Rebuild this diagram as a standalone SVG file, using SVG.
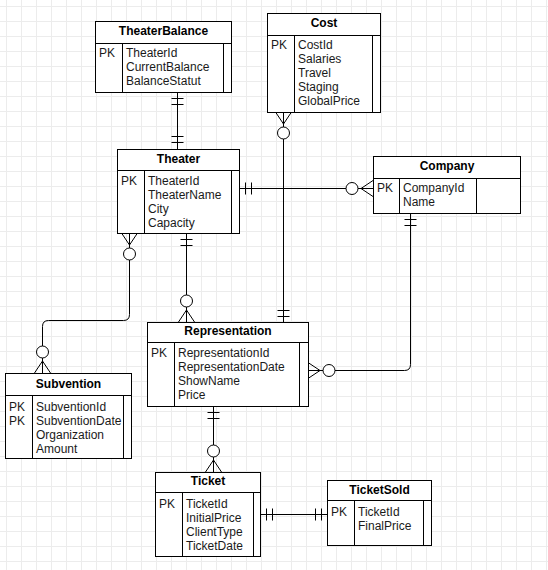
<svg xmlns="http://www.w3.org/2000/svg" width="548" height="570" viewBox="0 0 548 570">
<defs>
<pattern id="grid" x="6" y="6" width="15" height="15" patternUnits="userSpaceOnUse">
<path d="M0.5 0 V15 M0 0.5 H15" fill="none" stroke="#ececec" stroke-width="1"/>
</pattern>
<style>
.box{fill:#fff;stroke:#000;stroke-width:1}
.ln{fill:none;stroke:#000;stroke-width:1}
.hd{font-family:"Liberation Sans",Arial,sans-serif;font-size:12px;font-weight:bold;fill:#000;text-anchor:middle}
.tx{font-family:"Liberation Sans",Arial,sans-serif;font-size:12px;fill:#1a1a1a}
.c{fill:#fff;stroke:#000;stroke-width:1}
</style>
</defs>
<rect x="0" y="0" width="548" height="570" fill="#fff"/>
<rect x="0" y="0" width="548" height="570" fill="url(#grid)"/>

<g id="connectors">
<!-- TheaterBalance - Theater -->
<path class="ln" d="M177.5 92 V149 M171.5 98.5 H183.5 M171.5 104.5 H183.5 M171.5 136.5 H183.5 M171.5 142.5 H183.5"/>
<!-- Cost - Representation -->
<path class="ln" d="M283.5 112 V322 M275.5 112 L283.5 124 L291.5 112 M277.5 310.5 H289.5 M277.5 316.5 H289.5"/>
<circle class="c" cx="283.5" cy="133" r="6"/>
<!-- Theater - Company -->
<path class="ln" d="M239 188.5 H373 M245.5 182.5 V194.5 M251.5 182.5 V194.5 M373 180.5 L361 188.5 L373 196.5"/>
<circle class="c" cx="352" cy="188.5" r="6"/>
<!-- Theater - Subvention -->
<path class="ln" d="M129.5 233 V314.5 Q129.5 320.5 123.5 320.5 H48.5 Q42.5 320.5 42.5 326.5 V373 M121.5 233 L129.5 245 L137.5 233 M34.5 373 L42.5 361 L50.5 373"/>
<circle class="c" cx="129.5" cy="254" r="6"/>
<circle class="c" cx="42.5" cy="352" r="6"/>
<!-- Theater - Representation -->
<path class="ln" d="M186.5 233 V322 M180.5 239.5 H192.5 M180.5 245.5 H192.5 M178.5 322 L186.5 310 L194.5 322"/>
<circle class="c" cx="186.5" cy="301" r="6"/>
<!-- Company - Representation -->
<path class="ln" d="M410.5 213 V364.5 Q410.5 370.5 404.5 370.5 H308 M404.5 219.5 H416.5 M404.5 225.5 H416.5 M308 362.5 L320 370.5 L308 378.5"/>
<circle class="c" cx="329" cy="370.5" r="6"/>
<!-- Representation - Ticket -->
<path class="ln" d="M213.5 406 V472 M207.5 412.5 H219.5 M207.5 418.5 H219.5 M205.5 472 L213.5 460 L221.5 472"/>
<circle class="c" cx="213.5" cy="451" r="6"/>
<!-- Ticket - TicketSold -->
<path class="ln" d="M260 514.5 H327 M266.5 508.5 V520.5 M272.5 508.5 V520.5 M315.5 508.5 V520.5 M321.5 508.5 V520.5"/>
</g>

<g id="TheaterBalance">
<rect class="box" x="95.5" y="21.5" width="136" height="71"/>
<path class="ln" d="M95.5 43.5 H231.5 M122.5 43.5 V92.5 M223.5 43.5 V92.5"/>
<text class="hd" x="163.5" y="35">TheaterBalance</text>
<text class="tx" x="99" y="57">PK</text>
<text class="tx" x="126" y="57">TheaterId</text>
<text class="tx" x="126" y="71">CurrentBalance</text>
<text class="tx" x="126" y="85">BalanceStatut</text>
</g>

<g id="Cost">
<rect class="box" x="267.5" y="13.5" width="113" height="99"/>
<path class="ln" d="M267.5 35.5 H380.5 M294.5 35.5 V112.5 M372.5 35.5 V112.5"/>
<text class="hd" x="324" y="27">Cost</text>
<text class="tx" x="271" y="49">PK</text>
<text class="tx" x="298" y="49">CostId</text>
<text class="tx" x="298" y="63">Salaries</text>
<text class="tx" x="298" y="77">Travel</text>
<text class="tx" x="298" y="91">Staging</text>
<text class="tx" x="298" y="105">GlobalPrice</text>
</g>

<g id="Theater">
<rect class="box" x="117.5" y="149.5" width="122" height="84"/>
<path class="ln" d="M117.5 170.5 H239.5 M144.5 170.5 V233.5 M231.5 170.5 V233.5"/>
<text class="hd" x="178.5" y="163">Theater</text>
<text class="tx" x="121" y="185">PK</text>
<text class="tx" x="148" y="185">TheaterId</text>
<text class="tx" x="148" y="199">TheaterName</text>
<text class="tx" x="148" y="213">City</text>
<text class="tx" x="148" y="227">Capacity</text>
</g>

<g id="Company">
<rect class="box" x="373.5" y="156.5" width="147" height="57"/>
<path class="ln" d="M373.5 178.5 H520.5 M399.5 178.5 V213.5 M476.5 178.5 V213.5"/>
<text class="hd" x="447" y="170">Company</text>
<text class="tx" x="377" y="192">PK</text>
<text class="tx" x="403" y="192">CompanyId</text>
<text class="tx" x="403" y="206">Name</text>
</g>

<g id="Representation">
<rect class="box" x="147.5" y="322.5" width="161" height="84"/>
<path class="ln" d="M147.5 342.5 H308.5 M174.5 342.5 V406.5 M299.5 342.5 V406.5"/>
<text class="hd" x="228" y="335">Representation</text>
<text class="tx" x="151" y="357">PK</text>
<text class="tx" x="178" y="357">RepresentationId</text>
<text class="tx" x="178" y="371">RepresentationDate</text>
<text class="tx" x="178" y="385">ShowName</text>
<text class="tx" x="178" y="399">Price</text>
</g>

<g id="Subvention">
<rect class="box" x="5.5" y="373.5" width="126" height="85"/>
<path class="ln" d="M5.5 395.5 H131.5 M32.5 395.5 V458.5 M123.5 395.5 V458.5"/>
<text class="hd" x="68.5" y="388">Subvention</text>
<text class="tx" x="9" y="411">PK</text>
<text class="tx" x="9" y="425">PK</text>
<text class="tx" x="36" y="411">SubventionId</text>
<text class="tx" x="36" y="425">SubventionDate</text>
<text class="tx" x="36" y="439">Organization</text>
<text class="tx" x="36" y="453">Amount</text>
</g>

<g id="Ticket">
<rect class="box" x="155.5" y="472.5" width="105" height="84"/>
<path class="ln" d="M155.5 492.5 H260.5 M182.5 492.5 V556.5 M253.5 492.5 V556.5"/>
<text class="hd" x="208" y="485">Ticket</text>
<text class="tx" x="159" y="508">PK</text>
<text class="tx" x="186" y="508">TicketId</text>
<text class="tx" x="186" y="522">InitialPrice</text>
<text class="tx" x="186" y="536">ClientType</text>
<text class="tx" x="186" y="550">TicketDate</text>
</g>

<g id="TicketSold">
<rect class="box" x="327.5" y="480.5" width="104" height="65"/>
<path class="ln" d="M327.5 500.5 H431.5 M354.5 500.5 V545.5 M423.5 500.5 V545.5"/>
<text class="hd" x="379.5" y="494">TicketSold</text>
<text class="tx" x="331" y="516">PK</text>
<text class="tx" x="358" y="516">TicketId</text>
<text class="tx" x="358" y="530">FinalPrice</text>
</g>
</svg>
